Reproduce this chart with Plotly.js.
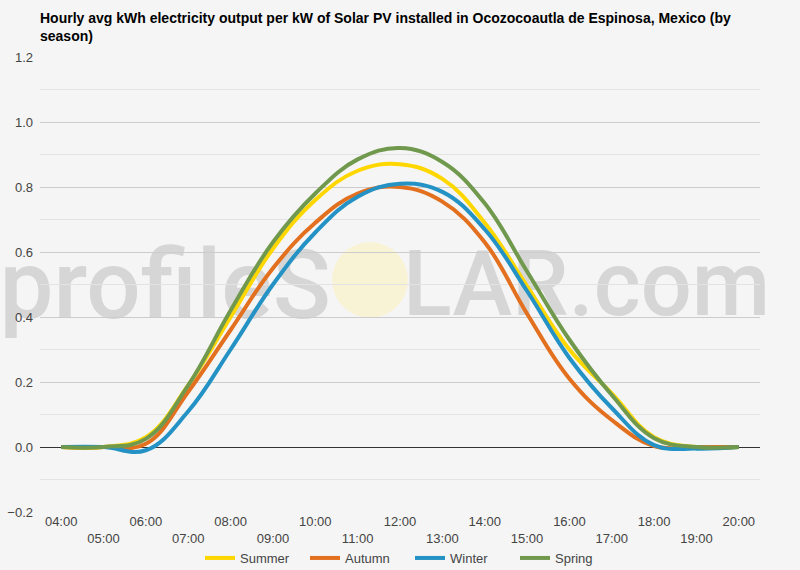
<!DOCTYPE html>
<html>
<head>
<meta charset="utf-8">
<script src="https://cdn.plot.ly/plotly-3.0.1.min.js"></script>
<style>html,body{margin:0;padding:0;background:#f5f5f5;}#chart{width:800px;height:570px;}</style>
</head>
<body>
<div id="chart"></div>
<script>
const hours = ['04:00','05:00','06:00','07:00','08:00','09:00','10:00','11:00','12:00','13:00','14:00','15:00','16:00','17:00','18:00','19:00','20:00'];
const summer = [0, 0, 0.03, 0.19, 0.40, 0.61, 0.76, 0.85, 0.87, 0.825, 0.69, 0.495, 0.30, 0.165, 0.03, 0.0, 0.0];
const autumn = [0, 0, 0.01, 0.17, 0.36, 0.55, 0.69, 0.78, 0.80, 0.755, 0.63, 0.41, 0.21, 0.083, 0.003, 0.0, 0.0];
const winter = [0, 0, -0.01, 0.11, 0.30, 0.50, 0.66, 0.77, 0.81, 0.785, 0.67, 0.48, 0.274, 0.12, 0.006, -0.005, 0.0];
const spring = [0, 0, 0.025, 0.19, 0.42, 0.63, 0.78, 0.885, 0.92, 0.877, 0.75, 0.54, 0.33, 0.16, 0.027, 0.0, 0.0];
const seriesNames = ['Summer','Autumn','Winter','Spring'];
const seriesColors = ['#FFD700','#E2701E','#2492C4','#70994D'];
const yTickVals = [-0.2, 0, 0.2, 0.4, 0.6, 0.8, 1.0, 1.2];
const titleText = 'Hourly avg kWh electricity output per kW of Solar PV installed in Ocozocoautla de Espinosa, Mexico (by<br>season)';

const values = [summer, autumn, winter, spring];
const traces = values.map((v, i) => ({
  x: hours, y: v, type: 'scatter', mode: 'lines', name: seriesNames[i],
  line: {color: seriesColors[i], width: 4, shape: 'spline', smoothing: 1.15}
}));

const font = 'Arial, "Liberation Sans", sans-serif';
const wmFont = 'Roboto, Arial, sans-serif';
const layout = {
  width: 800, height: 570,
  paper_bgcolor: '#f5f5f5', plot_bgcolor: '#f5f5f5',
  margin: {l: 40, r: 40, t: 57, b: 58, autoexpand: false},
  font: {family: font, size: 13, color: '#444'},
  title: {text: titleText, x: 40 / 800, xref: 'container', xanchor: 'left', y: 1 - 23 / 570, yref: 'container', yanchor: 'middle',
          font: {family: font, size: 14, color: '#000', weight: 'bold'}},
  xaxis: {type: 'category', range: [-0.5, 16.5], showgrid: false, zeroline: false, showline: false, automargin: false,
          tickvals: hours, ticktext: hours.map((h, i) => i % 2 ? '<br>' + h : h),
          tickangle: 0, ticks: '', tickfont: {size: 13, color: '#444'}, fixedrange: true},
  yaxis: {range: [-0.2, 1.2], tickvals: yTickVals, tickformat: '.1f', showgrid: true, gridcolor: '#cccccc', automargin: false,
          gridwidth: 1, zeroline: true, zerolinecolor: '#333333', zerolinewidth: 1, showline: false,
          ticks: '', ticklabelstandoff: 6, tickfont: {size: 13, color: '#444'},
          minor: {dtick: 0.1, showgrid: true, gridcolor: '#e3e3e3', gridwidth: 1}},
  legend: {orientation: 'h', x: 0.5125, xanchor: 'center', xref: 'container', y: 12 / 570, yref: 'container', yanchor: 'middle',
           font: {size: 13, color: '#444'}, itemwidth: 30, entrywidth: 60, bgcolor: 'rgba(0,0,0,0)'},
  shapes: [
    {type: 'circle', xref: 'paper', yref: 'paper', x0: 0.4056, x1: 0.511, y0: 0.4264, y1: 0.5934,
     fillcolor: '#f9f3d6', line: {width: 0}, layer: 'below'},
    {type: 'rect', xref: 'paper', yref: 'paper', x0: -0.1, x1: 0.408, y0: 0.375, y1: 0.655,
     line: {width: 0}, fillcolor: 'rgba(0,0,0,0)', layer: 'below',
     label: {text: 'profileS', textposition: 'middle right', padding: 0,
             font: {family: wmFont, size: 96, color: '#d6d6d6', weight: 500}}},
    {type: 'rect', xref: 'paper', yref: 'paper', x0: 0.5, x1: 1.1, y0: 0.375, y1: 0.655,
     line: {width: 0}, fillcolor: 'rgba(0,0,0,0)', layer: 'below',
     label: {text: 'LAR.com', textposition: 'middle left', padding: 0,
             font: {family: wmFont, size: 90, color: '#d6d6d6', weight: 500}}}
  ],
  showlegend: true
};
Plotly.newPlot('chart', traces, layout, {displayModeBar: false, staticPlot: true});
</script>
</body>
</html>
